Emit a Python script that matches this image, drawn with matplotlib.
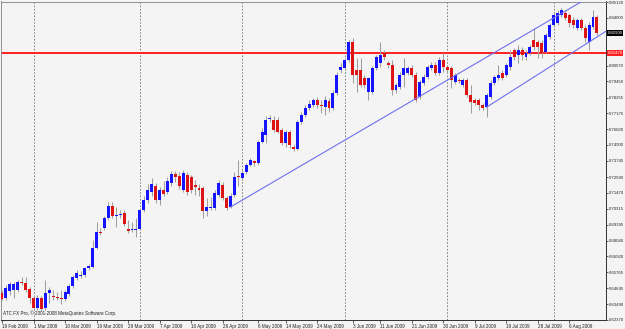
import numpy as np
import pandas as pd
import matplotlib
matplotlib.use('Agg')
import matplotlib.pyplot as plt
import matplotlib.transforms as mtransforms

# daily bars from 19 Feb 2009, one per day except Saturdays
start_date = '2009-02-19'

opens = [0.6429, 0.6393, 0.6443, 0.6451, 0.6451, 0.6508, 0.6501, 0.6458, 0.6393, 0.6322,
         0.6393, 0.6322, 0.6429, 0.6408, 0.6400, 0.6393, 0.6386, 0.6422, 0.6479, 0.6537,
         0.6551, 0.6558, 0.6608, 0.6615, 0.6751, 0.6866, 0.6894, 0.6966, 0.7052, 0.6980,
         0.6987, 0.7002, 0.6887, 0.6880, 0.6880, 0.6887, 0.7023, 0.7095, 0.7152, 0.7195,
         0.7095, 0.7167, 0.7152, 0.7217, 0.7281, 0.7267, 0.7167, 0.7274, 0.7260, 0.7202,
         0.7181, 0.7181, 0.7016, 0.7037, 0.7037, 0.7131, 0.7202, 0.7110, 0.7045, 0.7131,
         0.7267, 0.7252, 0.7295, 0.7345, 0.7374, 0.7360, 0.7510, 0.7560, 0.7674, 0.7667,
         0.7667, 0.7596, 0.7503, 0.7581, 0.7474, 0.7460, 0.7653, 0.7703, 0.7753, 0.7775,
         0.7811, 0.7775, 0.7760, 0.7803, 0.7753, 0.7861, 0.8025, 0.8040, 0.8097, 0.8226,
         0.8025, 0.8025, 0.7968, 0.7868, 0.7868, 0.8040, 0.8075, 0.8147, 0.8075, 0.8061,
         0.7882, 0.7904, 0.7989, 0.8004, 0.8040, 0.7989, 0.7832, 0.7932, 0.7975, 0.8040,
         0.8061, 0.8004, 0.8097, 0.8047, 0.8040, 0.7939, 0.7954, 0.7918, 0.7954, 0.7846,
         0.7811, 0.7811, 0.7775, 0.7760, 0.7832, 0.7932, 0.7968, 0.8004, 0.7989, 0.8047,
         0.8168, 0.8133, 0.8168, 0.8118, 0.8147, 0.8240, 0.8226, 0.8219, 0.8154, 0.8262,
         0.8347, 0.8362, 0.8419, 0.8433, 0.8419, 0.8383, 0.8326, 0.8383, 0.8326, 0.8226,
         0.8333, 0.8405]
highs = [0.6451, 0.6487, 0.6508, 0.6508, 0.6522, 0.6544, 0.6544, 0.6472, 0.6408, 0.6415,
         0.6408, 0.6522, 0.6472, 0.6451, 0.6436, 0.6451, 0.6451, 0.6494, 0.6558, 0.6594,
         0.6587, 0.6615, 0.6637, 0.6809, 0.6937, 0.6894, 0.6980, 0.7080, 0.7080, 0.7045,
         0.7023, 0.7023, 0.6952, 0.6937, 0.6966, 0.7037, 0.7124, 0.7210, 0.7252, 0.7217,
         0.7188, 0.7231, 0.7260, 0.7303, 0.7303, 0.7295, 0.7310, 0.7295, 0.7274, 0.7238,
         0.7210, 0.7195, 0.7110, 0.7117, 0.7167, 0.7238, 0.7224, 0.7124, 0.7145, 0.7295,
         0.7381, 0.7310, 0.7360, 0.7395, 0.7381, 0.7524, 0.7610, 0.7696, 0.7703, 0.7696,
         0.7689, 0.7610, 0.7596, 0.7596, 0.7489, 0.7667, 0.7725, 0.7775, 0.7811, 0.7825,
         0.7832, 0.7811, 0.7839, 0.7825, 0.7882, 0.8011, 0.8075, 0.8111, 0.8240, 0.8254,
         0.8111, 0.8111, 0.7989, 0.7975, 0.8054, 0.8133, 0.8226, 0.8168, 0.8090, 0.8097,
         0.7932, 0.8011, 0.8111, 0.8054, 0.8061, 0.8011, 0.7954, 0.7997, 0.8061, 0.8082,
         0.8082, 0.8118, 0.8147, 0.8061, 0.8054, 0.8004, 0.7968, 0.7968, 0.7968, 0.7918,
         0.7825, 0.7825, 0.7789, 0.7861, 0.7954, 0.7989, 0.8061, 0.8025, 0.8075, 0.8168,
         0.8183, 0.8204, 0.8190, 0.8168, 0.8204, 0.8326, 0.8240, 0.8240, 0.8290, 0.8362,
         0.8433, 0.8455, 0.8469, 0.8455, 0.8433, 0.8405, 0.8397, 0.8397, 0.8347, 0.8369,
         0.8455, 0.8419]
lows = [0.6379, 0.6379, 0.6415, 0.6393, 0.6436, 0.6487, 0.6436, 0.6357, 0.6307, 0.6307,
        0.6300, 0.6307, 0.6357, 0.6379, 0.6379, 0.6350, 0.6372, 0.6408, 0.6465, 0.6522,
        0.6537, 0.6544, 0.6594, 0.6608, 0.6744, 0.6844, 0.6880, 0.6952, 0.6966, 0.6901,
        0.6966, 0.6909, 0.6859, 0.6866, 0.6830, 0.6880, 0.7009, 0.7073, 0.7124, 0.7073,
        0.7059, 0.7124, 0.7138, 0.7195, 0.7224, 0.7174, 0.7152, 0.7131, 0.7145, 0.7131,
        0.7124, 0.6966, 0.6980, 0.7023, 0.7023, 0.7117, 0.7095, 0.7023, 0.7037, 0.7117,
        0.7195, 0.7238, 0.7281, 0.7338, 0.7338, 0.7345, 0.7503, 0.7503, 0.7653, 0.7581,
        0.7574, 0.7489, 0.7474, 0.7467, 0.7446, 0.7453, 0.7639, 0.7689, 0.7739, 0.7760,
        0.7753, 0.7718, 0.7703, 0.7725, 0.7739, 0.7846, 0.8004, 0.8025, 0.8082, 0.7932,
        0.7868, 0.7904, 0.7896, 0.7811, 0.7853, 0.8025, 0.8047, 0.8097, 0.8040, 0.7846,
        0.7861, 0.7889, 0.7904, 0.7989, 0.7975, 0.7796, 0.7818, 0.7918, 0.7961, 0.8025,
        0.7989, 0.7989, 0.8011, 0.8004, 0.7896, 0.7925, 0.7932, 0.7904, 0.7832, 0.7718,
        0.7775, 0.7739, 0.7739, 0.7689, 0.7818, 0.7918, 0.7954, 0.7954, 0.7975, 0.8025,
        0.8097, 0.8075, 0.8097, 0.8097, 0.8133, 0.8168, 0.8111, 0.8111, 0.8147, 0.8247,
        0.8333, 0.8347, 0.8405, 0.8383, 0.8333, 0.8326, 0.8312, 0.8312, 0.8226, 0.8168,
        0.8319, 0.8276]
closes = [0.6386, 0.6465, 0.6494, 0.6494, 0.6508, 0.6501, 0.6451, 0.6393, 0.6322, 0.6393,
          0.6314, 0.6429, 0.6451, 0.6400, 0.6393, 0.6386, 0.6436, 0.6479, 0.6544, 0.6572,
          0.6558, 0.6608, 0.6623, 0.6751, 0.6866, 0.6859, 0.6966, 0.7052, 0.6980, 0.6987,
          0.6994, 0.6923, 0.6873, 0.6887, 0.6887, 0.7023, 0.7095, 0.7167, 0.7210, 0.7095,
          0.7167, 0.7138, 0.7231, 0.7281, 0.7260, 0.7195, 0.7288, 0.7152, 0.7167, 0.7188,
          0.7167, 0.7016, 0.7045, 0.7045, 0.7145, 0.7217, 0.7110, 0.7037, 0.7124, 0.7260,
          0.7260, 0.7288, 0.7345, 0.7381, 0.7360, 0.7510, 0.7581, 0.7667, 0.7682, 0.7596,
          0.7581, 0.7503, 0.7581, 0.7489, 0.7460, 0.7653, 0.7703, 0.7753, 0.7782, 0.7811,
          0.7775, 0.7767, 0.7811, 0.7753, 0.7861, 0.7989, 0.8047, 0.8097, 0.8226, 0.7989,
          0.7989, 0.7918, 0.7918, 0.7968, 0.8040, 0.8118, 0.8133, 0.8118, 0.8061, 0.7882,
          0.7918, 0.7989, 0.8040, 0.8040, 0.7989, 0.7811, 0.7939, 0.7975, 0.8047, 0.8061,
          0.8004, 0.8097, 0.8047, 0.8025, 0.7954, 0.7989, 0.7946, 0.7954, 0.7846, 0.7796,
          0.7789, 0.7775, 0.7753, 0.7846, 0.7932, 0.7975, 0.7989, 0.7968, 0.8061, 0.8118,
          0.8118, 0.8168, 0.8133, 0.8147, 0.8190, 0.8190, 0.8190, 0.8147, 0.8276, 0.8347,
          0.8419, 0.8433, 0.8455, 0.8397, 0.8362, 0.8347, 0.8383, 0.8326, 0.8254, 0.8347,
          0.8405, 0.8290]

label_dates = ['2009-02-19', '2009-03-01', '2009-03-10', '2009-03-19', '2009-03-29',
               '2009-04-07', '2009-04-16', '2009-04-26', '2009-05-06', '2009-05-14',
               '2009-05-24', '2009-06-03', '2009-06-11', '2009-06-21', '2009-06-30',
               '2009-07-09', '2009-07-19', '2009-07-28', '2009-08-06']
price_ticks = [0.62370, 0.63490, 0.64645, 0.65765, 0.66920, 0.68040, 0.69195,
               0.70315, 0.71470, 0.72590, 0.73745, 0.74900, 0.76020, 0.77175,
               0.78255, 0.79450, 0.80570, 0.84000, 0.85120]
level_price = 0.8147
# trend lines: (bar, price) anchors
trend_main = [(58, 0.7045), (140, 0.8398)]
trend_lower = [(123, 0.7760), (151, 0.8262)]

o = np.array(opens)
h = np.array(highs)
l = np.array(lows)
c = np.array(closes)
n = len(o)

days = pd.date_range(start_date, periods=n + 40, freq='D')
days = days[days.dayofweek != 5][:n]
x = np.arange(n)

bg = '#f4f4f4'
fig = plt.figure(figsize=(6.25, 3.29), dpi=100, facecolor=bg)
ax = fig.add_axes([1 / 625, 9 / 329, 605 / 625, 318.5 / 329], facecolor=bg)
ax.set_xlim(-0.25, 153.3)
ax.set_ylim(0.6236, 0.8516)

# month separators
month_start = np.flatnonzero(days.month[1:] != days.month[:-1]) + 1
for m in month_start:
    ax.axvline(m, color='#707070', lw=0.6, ls=(0, (2, 2)), zorder=1)

# red level
ax.axhline(level_price, color='#ff2020', lw=1.4, zorder=2)

# candles
up = c >= o
ax.vlines(x, l, h, color='#a0a0a0', lw=0.75, zorder=3)
body_lo = np.minimum(o, c)
body_h = np.maximum(np.abs(c - o), 0.0006)
ax.bar(x, body_h, bottom=body_lo, width=0.75,
       color=np.where(up, '#1414ff', '#dd1414'), linewidth=0, zorder=4)

# channel lines, drawn as rays to the right edge
x_end = ax.get_xlim()[1]
for (x0, y0), (x1, y1) in (trend_main, trend_lower):
    k = (y1 - y0) / (x1 - x0)
    ax.plot([x0, x_end], [y0, y0 + k * (x_end - x0)], color='#7070ee', lw=0.8, zorder=5)

# axes styling
for side in ['top', 'left']:
    ax.spines[side].set_color('#909090')
for side in ['right', 'bottom']:
    ax.spines[side].set_color('#303030')
for sp in ax.spines.values():
    sp.set_linewidth(0.7)

fnt = 'Liberation Sans'
fs = 3.1
ax.yaxis.tick_right()
ax.set_yticks(price_ticks)
ax.set_yticklabels(['%.5f' % v for v in price_ticks], fontsize=fs, family=fnt)
ax.tick_params(axis='y', direction='out', length=1.5, width=0.5, pad=0.6, colors='#202020')

tick_pos = [days.get_loc(pd.Timestamp(d)) for d in label_dates]
tick_txt = [pd.Timestamp(d).strftime('%d %b %Y').lstrip('0') for d in label_dates]
ax.set_xticks(tick_pos)
ax.set_xticklabels(tick_txt, fontsize=3.3, family=fnt)
for t in ax.get_xticklabels():
    t.set_horizontalalignment('left')
ax.tick_params(axis='x', direction='out', length=2, width=0.5, pad=1.2, colors='#202020')

# price boxes on the scale
trans = mtransforms.blended_transform_factory(ax.transAxes, ax.transData)
ax.text(1.0025, c[-1], '%.5f' % c[-1], transform=trans, ha='left', va='center',
        fontsize=fs, family=fnt, color='white', clip_on=False, zorder=10,
        bbox=dict(boxstyle='square,pad=0.2', fc='black', ec='none'))
ax.text(1.0025, level_price, '%.5f' % level_price, transform=trans, ha='left', va='center',
        fontsize=fs, family=fnt, color='white', clip_on=False, zorder=10,
        bbox=dict(boxstyle='square,pad=0.2', fc='#ff2020', ec='none'))

ax.text(0.004, 0.012, 'ATC FX Pro, \u00a9 2001-2008 MetaQuotes Software Corp.',
        transform=ax.transAxes, fontsize=3.3, family=fnt, color='#202020',
        ha='left', va='bottom')

fig.savefig('out.png', dpi=100, facecolor=bg)
